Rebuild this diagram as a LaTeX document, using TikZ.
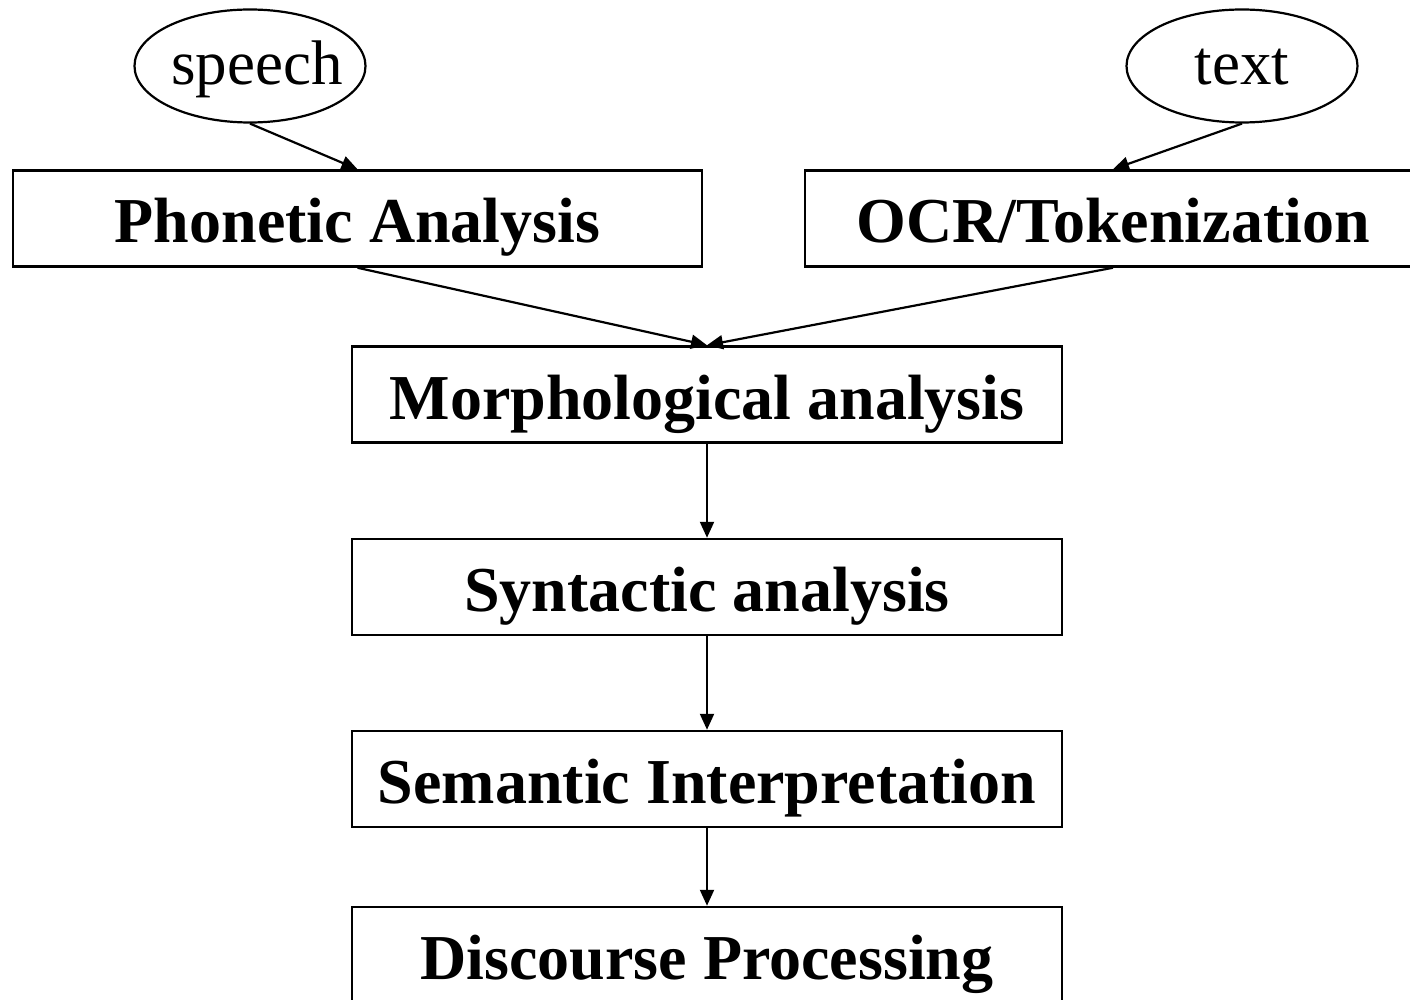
\documentclass[tikz,border=0pt]{standalone}
\usepackage{fontspec}
\setmainfont{Liberation Serif}
\usetikzlibrary{shapes.geometric,arrows.meta}
\tikzset{
  stage/.style={draw, line width=2.5pt, rectangle, inner sep=0pt, minimum height=96pt,
    text height=60pt, text depth=11pt,
    font=\fontsize{64}{70}\selectfont\bfseries},
  src/.style={draw, line width=2.2pt, ellipse, inner sep=0pt, minimum width=231pt, minimum height=113pt,
    text height=50pt, text depth=12pt,
    font=\fontsize{63}{70}\selectfont},
  flow/.style={line width=2.2pt, -{Triangle[length=16pt,width=14pt]}}
}
\begin{document}
\begin{tikzpicture}[x=1pt,y=-1pt]
\useasboundingbox (0,0) rectangle (1410,1000);
\clip (0,0) rectangle (1410,1000);
\node[src] (speech) at (250,66) {\makebox[0pt]{\hspace*{14pt}speech}};
\node[src] (text) at (1242,66) {text};
\node[stage, minimum width=689pt] (phon) at (357.5,218.5) {Phonetic Analysis};
\node[stage, minimum width=616pt] (ocr) at (1113,218.5) {OCR/Tokenization};
\node[stage, minimum width=710pt] (morph) at (707,394.5) {Morphological analysis};
\node[stage, minimum width=710pt] (syn) at (707,587) {Syntactic analysis};
\node[stage, minimum width=710pt] (sem) at (707,779) {Semantic Interpretation};
\node[stage, minimum width=710pt] (disc) at (707,955) {Discourse Processing};
\draw[flow] (speech.south) -- (phon.north);
\draw[flow] (text.south) -- (ocr.north);
\draw[flow] (phon.south) -- (morph.north);
\draw[flow] (ocr.south) -- (morph.north);
\draw[flow] (morph.south) -- (syn.north);
\draw[flow] (syn.south) -- (sem.north);
\draw[flow] (sem.south) -- (disc.north);
\end{tikzpicture}
\end{document}
